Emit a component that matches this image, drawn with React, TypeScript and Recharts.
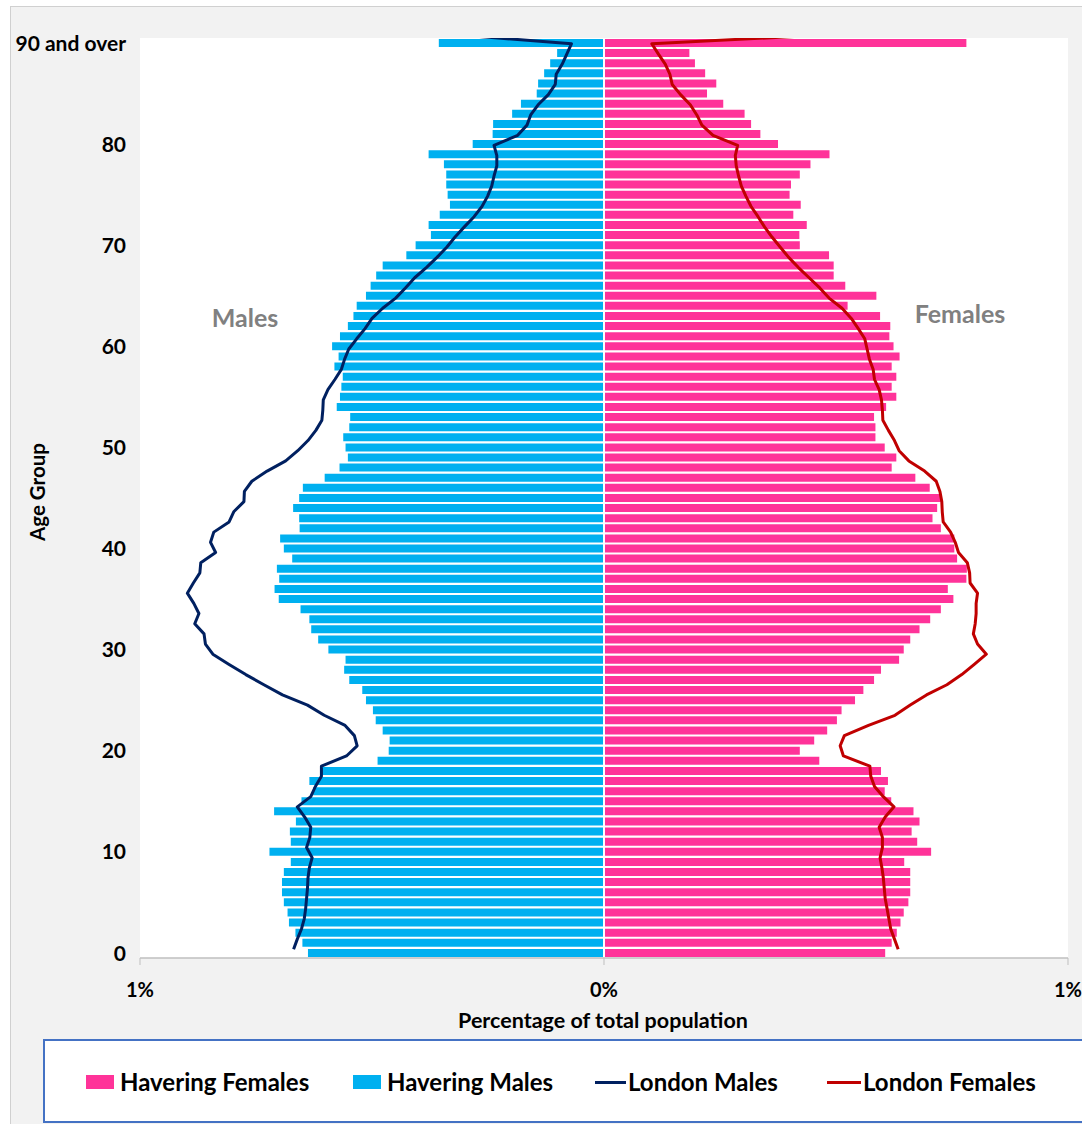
import React from "react";
import { BarChart, Bar, LineChart, Line, XAxis, YAxis, ReferenceLine } from "recharts";

// Age categories 0..89 plus "90 and over"
const AGES: string[] = [...Array.from({ length: 90 }, (_, i) => String(i)), "90 and over"];
const Y_TICKS = ["0", "10", "20", "30", "40", "50", "60", "70", "80", "90 and over"];
const X_TICKS = [-1, 0, 1];

// Percent of total population, index = age (0..90+)
const HAVERING_MALES = [
  0.638, 0.65, 0.665, 0.679, 0.682, 0.69, 0.694, 0.694, 0.69, 0.675,
  0.721, 0.675, 0.677, 0.664, 0.711, 0.652, 0.627, 0.635, 0.609, 0.488,
  0.464, 0.462, 0.477, 0.492, 0.498, 0.513, 0.521, 0.549, 0.56, 0.557,
  0.594, 0.616, 0.631, 0.635, 0.654, 0.701, 0.71, 0.7, 0.705, 0.672,
  0.69, 0.698, 0.656, 0.657, 0.67, 0.657, 0.649, 0.602, 0.57, 0.552,
  0.557, 0.562, 0.549, 0.547, 0.576, 0.569, 0.566, 0.563, 0.581, 0.572,
  0.586, 0.569, 0.552, 0.54, 0.533, 0.513, 0.503, 0.491, 0.477, 0.426,
  0.406, 0.373, 0.378, 0.354, 0.332, 0.337, 0.34, 0.34, 0.345, 0.378,
  0.283, 0.24, 0.239, 0.198, 0.179, 0.145, 0.142, 0.129, 0.116, 0.101,
  0.356,
];
const HAVERING_FEMALES = [
  0.606, 0.62, 0.631, 0.639, 0.646, 0.656, 0.66, 0.66, 0.66, 0.647,
  0.705, 0.675, 0.663, 0.68, 0.667, 0.619, 0.605, 0.612, 0.597, 0.464,
  0.422, 0.453, 0.481, 0.502, 0.512, 0.541, 0.559, 0.582, 0.597, 0.636,
  0.646, 0.66, 0.68, 0.703, 0.726, 0.753, 0.741, 0.781, 0.782, 0.761,
  0.755, 0.755, 0.726, 0.708, 0.718, 0.727, 0.702, 0.671, 0.62, 0.63,
  0.605, 0.585, 0.585, 0.582, 0.608, 0.63, 0.62, 0.63, 0.62, 0.637,
  0.624, 0.615, 0.617, 0.595, 0.525, 0.587, 0.52, 0.495, 0.495, 0.485,
  0.422, 0.421, 0.437, 0.408, 0.424, 0.4, 0.403, 0.422, 0.445, 0.486,
  0.375, 0.337, 0.317, 0.303, 0.257, 0.222, 0.242, 0.218, 0.196, 0.184,
  0.781,
];
const LONDON_MALES = [
  0.669, 0.661, 0.652, 0.646, 0.643, 0.641, 0.639, 0.638, 0.635, 0.629,
  0.641, 0.634, 0.632, 0.645, 0.661, 0.632, 0.622, 0.609, 0.609, 0.555,
  0.532, 0.538, 0.558, 0.603, 0.639, 0.693, 0.733, 0.772, 0.808, 0.843,
  0.859, 0.862, 0.882, 0.873, 0.884, 0.898, 0.885, 0.871, 0.869, 0.837,
  0.848, 0.841, 0.808, 0.798, 0.776, 0.775, 0.759, 0.726, 0.686, 0.66,
  0.638, 0.621, 0.608, 0.606, 0.605, 0.595, 0.58, 0.566, 0.559, 0.55,
  0.533, 0.515, 0.5, 0.477, 0.449, 0.428, 0.408, 0.383, 0.36, 0.339,
  0.321, 0.301, 0.28, 0.263, 0.251, 0.242, 0.237, 0.231, 0.231, 0.237,
  0.186, 0.166, 0.158, 0.142, 0.12, 0.105, 0.103, 0.09, 0.08, 0.07,
  0.35,
];
const LONDON_FEMALES = [
  0.634, 0.626, 0.618, 0.614, 0.61, 0.606, 0.604, 0.602, 0.599, 0.595,
  0.6, 0.6, 0.593, 0.606, 0.625, 0.602, 0.583, 0.575, 0.573, 0.516,
  0.509, 0.518, 0.57, 0.627, 0.66, 0.695, 0.739, 0.771, 0.798, 0.824,
  0.805, 0.796, 0.8, 0.802, 0.802, 0.805, 0.789, 0.788, 0.783, 0.764,
  0.757, 0.747, 0.731, 0.729, 0.728, 0.724, 0.716, 0.691, 0.657, 0.636,
  0.626, 0.613, 0.601, 0.6, 0.598, 0.593, 0.583, 0.58, 0.572, 0.567,
  0.562, 0.548, 0.533, 0.513, 0.485, 0.465, 0.442, 0.419, 0.398, 0.38,
  0.362, 0.346, 0.332, 0.317, 0.306, 0.296, 0.29, 0.285, 0.283, 0.288,
  0.235, 0.211, 0.2, 0.186, 0.165, 0.147, 0.142, 0.132, 0.117, 0.103,
  0.535,
];

const BLUE = "#00B0F0";
const PINK = "#FF3399";
const NAVY = "#002060";
const RED = "#C00000";
const FONT = "Lato, 'Open Sans', sans-serif";

// oldest first so that "90 and over" sits at the top
const barData = AGES.map((age, i) => ({
  age,
  males: -HAVERING_MALES[i],
  females: HAVERING_FEMALES[i],
})).reverse();

const lineData = AGES.map((age, i) => ({
  age,
  londonMales: -LONDON_MALES[i],
  londonFemales: LONDON_FEMALES[i],
})).reverse();

const W = 1082;
const H = 1124;

const YTick = (props: any) => {
  const v = props.payload?.value;
  if (!Y_TICKS.includes(v)) return <g />;
  return (
    <text x={126} y={props.y} dy="0.36em" textAnchor="end" fontFamily={FONT} fontWeight={700} fontSize={21} fill="#000">
      {v}
    </text>
  );
};

const XTick = (props: any) => {
  const v = props.payload?.value;
  const label = v === 0 ? "0%" : "1%";
  return (
    <text x={props.x} y={990} dy="0.36em" textAnchor="middle" fontFamily={FONT} fontWeight={700} fontSize={20} fill="#000">
      {label}
    </text>
  );
};

const centerText = (x: number, y: number, extra: React.CSSProperties = {}): React.CSSProperties => ({
  position: "absolute",
  left: x,
  top: y,
  transform: "translate(-50%, -50%)",
  whiteSpace: "nowrap",
  lineHeight: 1,
  fontFamily: FONT,
  fontWeight: 700,
  ...extra,
});

const legendText = (x: number): React.CSSProperties => ({
  position: "absolute",
  left: x,
  top: 1082,
  transform: "translateY(-50%)",
  whiteSpace: "nowrap",
  lineHeight: 1,
  fontFamily: FONT,
  fontWeight: 700,
  fontSize: 24,
  color: "#000",
});

export default function App() {
  return (
    <div style={{ position: "absolute", left: 0, top: 0, width: W, height: H, background: "#fff", overflow: "hidden" }}>
      {/* chart area */}
      <div
        style={{
          position: "absolute",
          left: 10,
          top: 6,
          width: W,
          height: H,
          background: "#f2f2f2",
          borderLeft: "1px solid #d0d0d0",
          borderTop: "1px solid #d0d0d0",
        }}
      />
      {/* plot area */}
      <div style={{ position: "absolute", left: 140, top: 38, width: 928, height: 920, background: "#fff" }} />

      <div style={{ position: "absolute", left: 0, top: 0 }}>
        <BarChart
          width={W}
          height={H}
          data={barData}
          layout="vertical"
          stackOffset="sign"
          barCategoryGap={1}
          margin={{ top: 38, right: W - 1068, bottom: 0, left: 0 }}
        >
          <XAxis
            type="number"
            domain={[-1, 1]}
            ticks={X_TICKS}
            allowDataOverflow
            height={H - 958}
            axisLine={{ stroke: "#bfbfbf", strokeWidth: 1.5 }}
            tickLine={{ stroke: "#bfbfbf" }}
            tickSize={7}
            tick={<XTick />}
          />
          <YAxis
            type="category"
            dataKey="age"
            width={140}
            interval={0}
            axisLine={false}
            tickLine={false}
            tick={<YTick />}
          />
          <Bar dataKey="males" stackId="pop" fill={BLUE} isAnimationActive={false} />
          <Bar dataKey="females" stackId="pop" fill={PINK} isAnimationActive={false} />
          <ReferenceLine x={0} stroke="#ffffff" strokeWidth={2} />
        </BarChart>
      </div>

      {/* London lines, clipped to the plot area */}
      <div style={{ position: "absolute", left: 0, top: 38, width: W, height: 920, overflow: "hidden" }}>
        <div style={{ position: "absolute", left: 0, top: -38 }}>
          <LineChart
            width={W}
            height={H}
            data={lineData}
            layout="vertical"
            margin={{ top: 33.55, right: W - 1068, bottom: H - 949.3, left: 140 }}
          >
            <XAxis type="number" domain={[-1, 1]} allowDataOverflow hide />
            <YAxis type="category" dataKey="age" hide />
            <Line
              dataKey="londonMales"
              stroke={NAVY}
              strokeWidth={3}
              dot={false}
              isAnimationActive={false}
              strokeLinejoin="round"
            />
            <Line
              dataKey="londonFemales"
              stroke={RED}
              strokeWidth={3}
              dot={false}
              isAnimationActive={false}
              strokeLinejoin="round"
            />
          </LineChart>
        </div>
      </div>

      {/* annotations */}
      <div style={centerText(245, 317, { fontSize: 25, color: "#808080" })}>Males</div>
      <div style={centerText(960, 313, { fontSize: 25, color: "#808080" })}>Females</div>
      <div style={centerText(37, 492, { fontSize: 20.5, color: "#000", transform: "translate(-50%, -50%) rotate(-90deg)" })}>
        Age Group
      </div>
      <div style={centerText(603, 1021, { fontSize: 21.5, color: "#000" })}>Percentage of total population</div>

      {/* legend */}
      <div
        style={{
          position: "absolute",
          left: 43,
          top: 1039,
          width: 1070,
          height: 84,
          boxSizing: "border-box",
          border: "2px solid #4472C4",
          background: "#fff",
        }}
      />
      <div style={{ position: "absolute", left: 86, top: 1075, width: 28, height: 14, background: PINK }} />
      <div style={legendText(120)}>Havering Females</div>
      <div style={{ position: "absolute", left: 353, top: 1075, width: 28, height: 14, background: BLUE }} />
      <div style={legendText(387)}>Havering Males</div>
      <div style={{ position: "absolute", left: 595, top: 1081, width: 31, height: 3, background: NAVY }} />
      <div style={legendText(628)}>London Males</div>
      <div style={{ position: "absolute", left: 827, top: 1081, width: 34, height: 3, background: RED }} />
      <div style={legendText(863)}>London Females</div>
    </div>
  );
}
